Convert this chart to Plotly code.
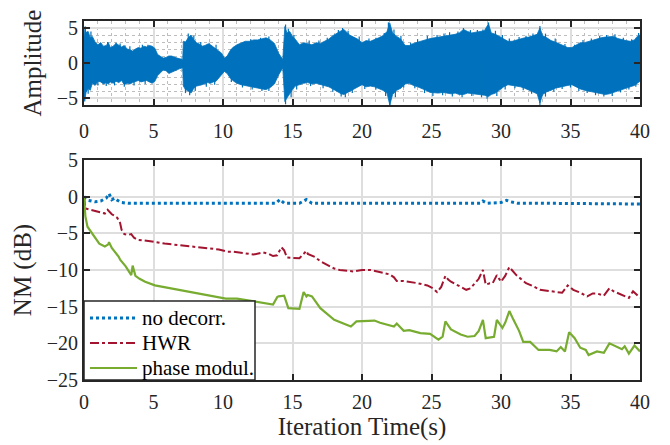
import plotly.graph_objects as go

# ---------------- data ----------------
env_t = [0.0, 0.05, 0.15, 0.3, 0.45, 0.6, 0.8, 1.0, 1.2, 1.4,
         1.6, 1.75, 1.9, 2.1, 2.3, 2.5, 2.7, 2.9, 3.1, 3.3,
         3.5, 3.7, 3.9, 4.1, 4.3, 4.5, 4.7, 4.9, 5.1, 5.3,
         5.5, 5.7, 5.9, 6.1, 6.3, 6.5, 6.7, 6.9, 7.1, 7.15,
         7.3, 7.5, 7.7, 7.9, 8.1, 8.3, 8.5, 8.7, 8.9, 9.1,
         9.3, 9.5, 9.7, 9.9, 10.1, 10.3, 10.5, 10.7, 11.0, 11.3,
         11.6, 11.9, 12.2, 12.5, 12.8, 13.1, 13.4, 13.7, 14.0, 14.3,
         14.45, 14.6, 14.8, 15.0, 15.2, 15.5, 15.8, 16.1, 16.4, 16.7,
         17.0, 17.3, 17.6, 17.9, 18.2, 18.5, 18.7, 18.9, 19.1, 19.4,
         19.7, 20.0, 20.3, 20.6, 20.9, 21.2, 21.5, 21.8, 22.0, 22.2,
         22.5, 22.8, 23.1, 23.4, 23.7, 24.0, 24.3, 24.6, 24.9, 25.2,
         25.5, 25.8, 26.1, 26.4, 26.7, 27.0, 27.3, 27.6, 27.9, 28.2,
         28.5, 28.8, 29.1, 29.3, 29.6, 29.9, 30.2, 30.5, 30.8, 31.1,
         31.4, 31.7, 32.0, 32.3, 32.6, 32.8, 33.0, 33.3, 33.6, 33.9,
         34.2, 34.5, 34.8, 35.1, 35.4, 35.7, 36.0, 36.3, 36.6, 36.9,
         37.2, 37.5, 37.8, 38.1, 38.4, 38.7, 39.0, 39.3, 39.6, 39.8,
         40.0]
env_upper = [5.2, 3.8, 4.4, 4.5, 3.6, 3.8, 3.0, 2.6, 2.9, 2.4,
             2.5, 2.9, 2.2, 2.4, 2.8, 2.6, 2.3, 2.5, 2.0, 1.9,
             1.7, 2.0, 2.2, 2.1, 2.4, 2.3, 2.5, 2.4, 2.1, 1.2,
             0.9, 0.7, 0.8, 1.0, 1.0, 0.8, 0.7, 0.6, 0.5, 3.1,
             3.0, 3.6, 4.0, 3.3, 2.9, 2.7, 2.4, 2.5, 2.7, 2.6,
             2.3, 2.1, 1.8, 1.4, 0.7, 1.0, 1.7, 2.2, 2.6, 2.8,
             3.1, 3.1, 3.3, 3.3, 3.5, 3.6, 3.3, 2.8, 1.4, 0.5,
             5.2, 4.3, 4.5, 3.8, 3.4, 2.6, 2.9, 2.8, 2.6, 2.9,
             2.8, 3.1, 3.4, 3.9, 4.3, 4.6, 4.8, 4.4, 4.0, 3.7,
             3.4, 2.9, 3.2, 3.1, 3.3, 3.6, 3.9, 4.5, 5.7, 4.3,
             3.8, 3.4, 2.5, 2.5, 2.8, 3.0, 3.1, 3.4, 3.5, 3.6,
             3.7, 3.8, 3.8, 4.0, 4.1, 4.3, 4.8, 4.5, 4.3, 4.4,
             4.5, 4.6, 5.6, 4.3, 4.1, 3.8, 3.4, 3.1, 3.1, 3.3,
             3.4, 3.6, 3.7, 3.9, 4.1, 5.0, 3.9, 3.6, 3.2, 3.0,
             2.7, 2.4, 2.2, 2.2, 2.5, 2.9, 2.9, 3.1, 3.2, 3.4,
             3.6, 3.7, 3.8, 3.8, 3.5, 3.3, 3.2, 3.1, 3.3, 3.8,
             4.0]
env_lower = [-5.0, -5.3, -4.2, -3.6, -3.9, -2.9, -3.2, -2.6, -2.7, -3.0,
             -2.8, -3.0, -2.7, -2.9, -2.6, -2.8, -2.5, -3.1, -2.9, -3.0,
             -2.8, -2.6, -2.5, -2.7, -2.6, -2.5, -2.7, -2.9, -2.6, -1.8,
             -1.4, -1.0, -1.1, -1.5, -1.4, -1.2, -1.0, -0.8, -0.7, -3.3,
             -3.8, -4.0, -4.3, -3.6, -3.3, -3.2, -3.1, -3.0, -2.8, -2.9,
             -2.7, -2.6, -2.2, -1.7, -1.2, -1.5, -2.1, -2.5, -2.9, -3.1,
             -3.3, -3.4, -3.5, -3.6, -3.7, -3.8, -3.5, -3.0, -1.7, -0.7,
             -5.5, -5.0, -4.5, -3.8, -3.3, -3.1, -2.9, -2.8, -3.0, -2.9,
             -3.0, -3.2, -3.4, -3.7, -4.0, -4.4, -4.5, -4.2, -4.0, -3.7,
             -3.4, -3.1, -3.4, -3.3, -3.4, -3.6, -3.9, -4.3, -6.0, -4.5,
             -3.9, -3.6, -3.0, -2.9, -3.2, -3.4, -3.6, -3.9, -4.2, -4.3,
             -4.3, -4.2, -4.3, -4.4, -4.3, -4.5, -4.5, -4.3, -4.3, -4.4,
             -4.5, -4.6, -4.8, -4.5, -4.3, -3.9, -3.4, -3.1, -3.2, -3.3,
             -3.4, -3.6, -3.8, -4.1, -4.4, -5.7, -4.5, -4.1, -3.9, -3.6,
             -3.4, -3.3, -3.2, -3.1, -3.4, -3.7, -3.9, -4.0, -4.1, -4.3,
             -4.4, -4.5, -4.4, -4.3, -4.0, -3.8, -3.6, -3.4, -3.2, -2.9,
             -2.6]

# individual peaks sticking out of the envelope
peak_up_t = [0.1, 0.5, 1.2, 1.7, 2.3, 2.6, 3.3, 4.2, 4.6, 7.5,
             7.9, 8.4, 9.0, 9.5, 10.6, 11.5, 12.0, 12.7, 13.3, 14.5,
             14.7, 15.1, 16.2, 16.9, 17.5, 18.3, 18.6, 19.0, 19.8, 20.5,
             21.0, 21.6, 21.9, 22.3, 22.8, 23.5, 24.0, 24.7, 25.4, 25.9,
             26.3, 26.9, 27.3, 27.8, 28.3, 28.7, 29.1, 29.6, 30.1, 30.6,
             31.3, 31.8, 32.3, 32.8, 33.2, 33.9, 34.6, 35.3, 35.9, 36.5,
             37.1, 37.6, 38.2, 38.8, 39.4, 39.9]
peak_up_v = [5.2, 4.5, 2.9, 3.0, 2.9, 2.8, 2.4, 2.6, 2.6, 4.2,
             3.9, 3.0, 2.9, 2.6, 2.0, 3.0, 3.4, 3.6, 3.8, 5.5,
             4.9, 4.0, 3.2, 3.2, 3.6, 4.7, 5.0, 4.6, 3.8, 3.5,
             3.6, 4.3, 5.8, 4.8, 3.9, 2.9, 3.4, 3.9, 4.0, 4.2,
             4.4, 4.5, 5.0, 4.7, 4.7, 4.8, 5.8, 4.6, 4.0, 3.5,
             3.7, 3.9, 4.2, 5.3, 4.2, 3.5, 2.7, 2.6, 3.3, 3.5,
             3.9, 4.0, 4.1, 3.6, 3.4, 4.3]
peak_lo_t = [0.05, 0.3, 1.0, 1.6, 2.2, 2.9, 3.6, 4.4, 7.3, 7.6,
             8.0, 8.8, 9.4, 10.6, 11.4, 12.1, 12.8, 13.3, 14.5, 14.9,
             15.3, 16.3, 17.2, 17.9, 18.5, 18.8, 19.3, 20.2, 21.0, 21.7,
             22.0, 22.4, 23.0, 23.8, 24.5, 25.1, 25.8, 26.5, 27.2, 27.9,
             28.6, 29.0, 29.7, 30.3, 31.0, 31.6, 32.2, 32.8, 33.2, 33.8,
             34.4, 35.0, 35.6, 36.2, 36.8, 37.4, 38.0, 38.6, 39.2, 39.7]
peak_lo_v = [-5.5, -4.4, -3.2, -3.3, -3.2, -3.4, -3.2, -3.0, -4.3, -4.6,
             -4.0, -3.4, -3.1, -2.7, -3.5, -3.8, -4.0, -4.0, -5.9, -4.9,
             -3.8, -3.3, -3.6, -4.1, -4.8, -4.9, -4.3, -3.7, -3.8, -4.7,
             -6.3, -4.9, -3.5, -3.6, -4.3, -4.7, -4.6, -4.8, -4.9, -4.7,
             -4.9, -5.1, -4.7, -3.8, -3.6, -3.9, -4.4, -6.0, -4.8, -4.1,
             -3.7, -3.5, -4.0, -4.3, -4.6, -4.8, -4.7, -4.2, -3.8, -3.4]

nd_t = [0, 0.3, 0.8, 1.2, 1.6, 1.8, 2.0, 2.2, 2.4, 2.7,
        3.2, 5, 8, 10, 12, 13.8, 14.1, 14.4, 15.5, 16.0,
        16.4, 18, 20, 22, 25, 27, 28.5, 28.7, 29.0, 30.0,
        30.4, 30.7, 31.2, 33, 35, 37, 39, 40]
nd_v = [0, -0.5, -0.7, -0.6, -0.2, 0.4, -0.4, -0.2, -0.5, -0.8,
        -0.9, -0.9, -0.9, -0.9, -0.9, -0.9, -0.4, -0.9, -0.9, -0.4,
        -0.9, -0.9, -1.0, -0.9, -0.9, -1.0, -0.9, -0.6, -0.9, -0.8,
        -0.5, -0.7, -0.9, -0.9, -0.9, -0.9, -1.0, -1.0]

hwr_t = [0, 0.1, 0.5, 0.9, 1.3, 1.5, 1.7, 2.0, 2.2, 2.4,
         2.6, 2.7, 2.9, 3.2, 3.4, 3.6, 3.9, 4.4, 4.9, 5.8,
         6.8, 7.5, 8.2, 9.0, 9.7, 10.3, 10.7, 11.5, 12.2, 12.9,
         13.3, 13.6, 13.9, 14.2, 14.4, 14.6, 15.0, 15.5, 15.8, 16.0,
         16.1, 16.3, 16.6, 17.0, 17.5, 18.0, 18.4, 19.4, 20.0, 20.6,
         21.1, 21.6, 22.0, 22.3, 22.5, 23.0, 23.4, 24.0, 24.7, 25.1,
         25.4, 25.7, 26.0, 26.2, 26.4, 27.0, 27.5, 27.8, 28.1, 28.4,
         28.7, 28.9, 29.2, 29.4, 29.7, 30.0, 30.3, 30.6, 31.1, 31.8,
         32.3, 32.8, 33.6, 34.4, 34.8, 35.2, 35.7, 36.2, 36.6, 36.9,
         37.4, 37.8, 38.1, 38.5, 38.9, 39.2, 39.5, 39.8, 40]
hwr_v = [0, -1.6, -1.8, -2.0, -2.2, -2.3, -1.8, -2.4, -2.6, -2.9,
         -3.6, -4.5, -5.1, -5.2, -5.1, -5.6, -5.9, -6.0, -6.1, -6.4,
         -6.6, -6.8, -6.9, -7.0, -7.2, -7.5, -7.5, -7.7, -7.9, -7.6,
         -7.8, -8.1, -8.0, -6.9, -7.3, -8.3, -8.3, -8.4, -7.8, -7.4,
         -7.8, -8.0, -8.2, -8.8, -9.3, -9.8, -10.0, -10.2, -10.0, -10.0,
         -10.2, -10.4, -10.6, -11.0, -11.5, -11.5, -11.6, -11.8, -12.1, -12.5,
         -13.0, -12.3, -10.8, -11.3, -11.6, -12.2, -12.7, -12.5, -11.8, -11.2,
         -10.0, -12.0, -11.8, -11.8, -10.7, -11.6, -10.8, -9.6, -10.7, -11.8,
         -12.2, -12.7, -12.9, -13.1, -12.1, -12.7, -13.1, -13.6, -13.2, -13.2,
         -13.5, -12.5, -12.9, -13.2, -13.6, -13.8, -12.9, -13.5, -13.8]

pm_t = [0, 0.1, 0.25, 0.6, 1.1, 1.5, 1.75, 1.8, 2.0, 2.5,
        2.6, 3.0, 3.4, 3.5, 3.7, 4.0, 4.4, 5.1, 6.3, 7.5,
        8.7, 10.2, 11.0, 12.4, 13.6, 13.9, 14.0, 14.4, 14.7, 15.5,
        15.8, 16.0, 16.1, 16.4, 17.0, 18.0, 18.6, 19.2, 19.6, 20.2,
        20.9, 21.3, 21.8, 22.3, 22.5, 23.0, 23.4, 24.2, 24.9, 25.5,
        25.8, 26.0, 26.4, 27.1, 27.6, 28.1, 28.4, 28.7, 28.9, 29.5,
        29.7, 30.1, 30.3, 30.6, 30.9, 31.3, 31.6, 32.1, 32.7, 33.5,
        34.0, 34.3, 34.6, 34.9, 35.3, 35.7, 36.1, 36.3, 36.9, 37.4,
        37.8, 38.2, 38.7, 38.9, 39.2, 39.6, 40]
pm_v = [0, -2.7, -4.1, -5.0, -6.4, -6.8, -6.5, -6.2, -7.0, -8.2,
        -8.6, -9.5, -10.7, -9.4, -10.8, -11.2, -11.6, -12.1, -12.5, -12.9,
        -13.3, -13.9, -13.9, -14.3, -14.7, -13.7, -13.6, -13.5, -15.2, -15.3,
        -13.0, -13.6, -13.4, -13.6, -15.2, -16.8, -17.3, -17.7, -17.0, -17.0,
        -16.9, -17.2, -17.5, -17.7, -17.3, -18.3, -18.2, -18.6, -18.7, -19.5,
        -19.1, -17.0, -18.1, -18.8, -19.1, -19.0, -18.3, -16.8, -19.3, -19.1,
        -16.8, -17.9, -17.2, -15.6, -16.8, -18.3, -19.8, -19.8, -20.9, -20.9,
        -21.1, -20.5, -21.1, -18.5, -19.3, -20.6, -20.9, -21.6, -21.1, -21.3,
        -20.0, -20.4, -20.8, -20.4, -21.4, -20.3, -21.1]

series_names = ["no decorr.", "HWR", "phase modul."]

x_ticks = [0, 5, 10, 15, 20, 25, 30, 35, 40]
x_ticktext = ["0", "5", "10", "15", "20", "25", "30", "35", "40"]
amp_ticks = [-5, 0, 5]
amp_ticktext = ["\u22125", "0", "5"]
nm_ticks = [-25, -20, -15, -10, -5, 0, 5]
nm_ticktext = ["\u221225", "\u221220", "\u221215", "\u221210", "\u22125", "0", "5"]

# ---------------- figure ----------------
BLUE = "#0072BD"
RED = "#A2142F"
GREEN = "#77AC30"
FONT = "Liberation Serif"
INK = "#262626"

fig = go.Figure()

poly_x = env_t + env_t[::-1]
poly_y = env_upper + env_lower[::-1]
fig.add_trace(go.Scatter(x=poly_x, y=poly_y, mode="lines", fill="toself",
                         fillcolor=BLUE, line=dict(color=BLUE, width=0.8),
                         showlegend=False, hoverinfo="skip",
                         xaxis="x", yaxis="y"))

spike_x, spike_y = [], []
for t, v in list(zip(peak_up_t, peak_up_v)) + list(zip(peak_lo_t, peak_lo_v)):
    spike_x += [t, t, None]
    spike_y += [0, v, None]
fig.add_trace(go.Scatter(x=spike_x, y=spike_y, mode="lines",
                         line=dict(color=BLUE, width=1.2),
                         showlegend=False, hoverinfo="skip",
                         xaxis="x", yaxis="y"))

styles = [dict(color=BLUE, width=3, dash="dot"),
          dict(color=RED, width=2, dash="dashdot"),
          dict(color=GREEN, width=2.2)]
for name, tt, vv, st in zip(series_names, [nd_t, hwr_t, pm_t],
                            [nd_v, hwr_v, pm_v], styles):
    fig.add_trace(go.Scatter(x=tt, y=vv, mode="lines", name=name, line=st,
                             showlegend=False, xaxis="x2", yaxis="y2"))

axis_common = dict(showline=True, linecolor=INK, linewidth=2,
                   mirror="allticks", ticks="inside", ticklen=6,
                   tickwidth=1.5, tickcolor=INK, zeroline=False,
                   showgrid=True, gridcolor="#DEDEDE", gridwidth=1.5,
                   automargin=False,
                   tickfont=dict(family=FONT, size=20, color=INK))

# page has an 8px body margin; plot area spans page x 84..640, y 21..380
top_h = (380 - 105) / 359
bot_top = (380 - 160) / 359

# ----- legend box drawn in paper coordinates (bottom-left of lower axes)
LEG_X1 = (255 - 84) / 556
LEG_Y1 = (380 - 301) / 359
row_y = [(380 - 318) / 359, (380 - 343) / 359, (380 - 368) / 359]
shapes = [dict(type="rect", xref="paper", yref="paper", x0=0, x1=LEG_X1,
               y0=0, y1=LEG_Y1, fillcolor="white",
               line=dict(color=INK, width=1.5), layer="above")]
annotations = []
for name, st, ry in zip(series_names, styles, row_y):
    shapes.append(dict(type="line", xref="paper", yref="paper",
                       x0=6 / 556, x1=53 / 556, y0=ry, y1=ry,
                       line=dict(color=st["color"], width=st["width"],
                                 dash=st.get("dash", "solid")),
                       layer="above"))
    annotations.append(dict(xref="paper", yref="paper", x=56 / 556, y=ry,
                            xanchor="left", yanchor="middle", text=name,
                            showarrow=False,
                            font=dict(family=FONT, size=21, color="black")))

fig.update_layout(
    width=670, height=445,
    margin=dict(l=76, r=38, t=13, b=73, autoexpand=False),
    paper_bgcolor="white", plot_bgcolor="white",
    font=dict(family=FONT, size=20, color=INK),
    xaxis=dict(domain=[0, 1], anchor="y", range=[0, 40],
               tickvals=x_ticks, ticktext=x_ticktext, ticklabelstandoff=7,
               minor=dict(dtick=1, showgrid=True, gridcolor="#BDBDBD",
                          griddash="dot", gridwidth=1, ticks=""),
               **axis_common),
    yaxis=dict(domain=[top_h, 1], anchor="x", range=[-6, 6],
               tickvals=amp_ticks, ticktext=amp_ticktext,
               minor=dict(dtick=1, showgrid=True, gridcolor="#BDBDBD",
                          griddash="dot", gridwidth=1, ticks=""),
               title=dict(text="Amplitude", standoff=8,
                          font=dict(family=FONT, size=25, color=INK)),
               **axis_common),
    xaxis2=dict(domain=[0, 1], anchor="y2", range=[0, 40],
                tickvals=x_ticks, ticktext=x_ticktext, ticklabelstandoff=3,
                title=dict(text="Iteration Time(s)", standoff=5,
                           font=dict(family=FONT, size=25, color=INK)),
                **axis_common),
    yaxis2=dict(domain=[0, bot_top], anchor="x2", range=[-25, 5],
                tickvals=nm_ticks, ticktext=nm_ticktext,
                title=dict(text="NM (dB)", standoff=8,
                           font=dict(family=FONT, size=25, color=INK)),
                **axis_common),
    shapes=shapes,
    annotations=annotations,
    showlegend=False,
)

fig.write_html("out.html")
